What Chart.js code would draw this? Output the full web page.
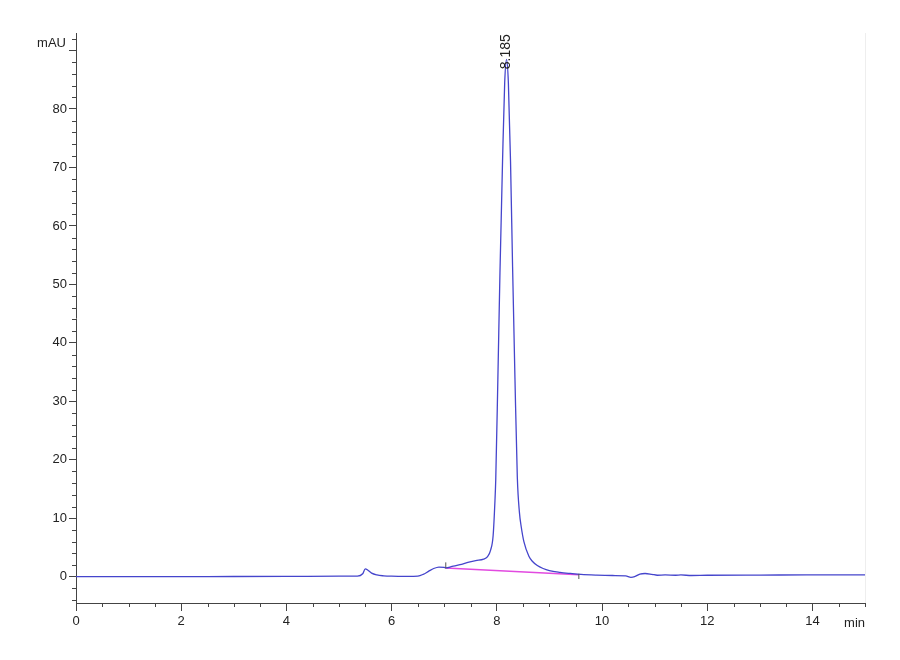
<!DOCTYPE html>
<html><head><meta charset="utf-8">
<script src="https://cdn.jsdelivr.net/npm/chart.js@4"></script>
<style>html,body{margin:0;padding:0;background:#fff}#wrap{width:900px;height:660px;position:relative}</style>
</head><body><div id="wrap"><canvas id="c"></canvas></div>
<script>
// Chromatogram signal (time in min, absorbance in mAU)
const timeMin = [0, 1, 2, 3, 4, 5, 5.35, 5.45, 5.5, 5.55, 5.62, 5.72, 5.85, 6.0, 6.3, 6.5, 6.6, 6.7, 6.8, 6.9, 7.0, 7.03, 7.15, 7.3, 7.45, 7.6, 7.75, 7.82, 7.884, 7.93, 7.965, 7.98, 8.02, 8.06, 8.109, 8.15, 8.185, 8.22, 8.261, 8.30, 8.345, 8.39, 8.43, 8.465, 8.515, 8.61, 8.68, 8.77, 8.88, 9.0, 9.2, 9.4, 9.6, 9.9, 10.2, 10.45, 10.55, 10.62, 10.72, 10.82, 10.95, 11.05, 11.2, 11.4, 11.5, 11.7, 12, 13, 14, 15];
const signalMAU = [0.0, 0.0, 0.02, 0.03, 0.05, 0.08, 0.1, 0.5, 1.35, 1.1, 0.6, 0.3, 0.15, 0.08, 0.05, 0.1, 0.4, 0.9, 1.4, 1.65, 1.6, 1.5, 1.75, 2.05, 2.45, 2.75, 3.0, 3.4, 4.6, 7.0, 13.0, 16.6, 33.7, 52, 71, 84.5, 88.5, 84.5, 71, 53, 34, 17, 11, 8.5, 6.0, 3.5, 2.6, 1.9, 1.4, 1.05, 0.75, 0.55, 0.38, 0.26, 0.2, 0.15, -0.1, 0.0, 0.45, 0.55, 0.4, 0.25, 0.3, 0.25, 0.3, 0.2, 0.25, 0.28, 0.3, 0.3];
// Integration baseline of the main peak
const baselineTime = [7.03, 9.56];
const baselineMAU = [1.5, 0.34];
// Integration start / end marks
const markTime = [7.03, 9.56];
const markLow = [1.4, -0.4];
const markHigh = [2.45, 0.5];
// Peak annotation
const peakTime = 8.185;
const peakLabelAt = 86.8;
const peakLabel = "8.185";
// Axes
const xMin = 0, xMax = 15, xStep = 0.5, xLabelEvery = 2;
const yMin = -4.5, yMax = 93, yStep = 2, yLabelEvery = 10;
const yUnit = "mAU", xUnit = "min";

const FONT = "'Liberation Sans', Arial, sans-serif";
const AXIS = '#444';

const signalPts = timeMin.map((t, i) => ({x: t, y: signalMAU[i]}));
const basePts = baselineTime.map((t, i) => ({x: t, y: baselineMAU[i]}));
const markSets = markTime.map((t, i) => ({
  data: [{x: t, y: markLow[i]}, {x: t, y: markHigh[i]}],
  borderColor: '#555', borderWidth: 1, pointRadius: 0, order: 0
}));

function isMult(v, m){ return Math.abs(v / m - Math.round(v / m)) < 1e-6; }

const decor = {
  id: 'decor',
  afterDraw(chart){
    const {ctx, chartArea: a, scales: {x, y}} = chart;
    ctx.save();
    // minor ticks
    ctx.strokeStyle = AXIS; ctx.lineWidth = 1;
    ctx.beginPath();
    x.ticks.forEach(t => {
      if (!isMult(t.value, xLabelEvery)) {
        const px = Math.round(x.getPixelForValue(t.value)) + 0.5;
        ctx.moveTo(px, a.bottom); ctx.lineTo(px, a.bottom + 4);
      }
    });
    y.ticks.forEach(t => {
      if (!isMult(t.value, yLabelEvery)) {
        const py = Math.round(y.getPixelForValue(t.value)) + 0.5;
        ctx.moveTo(a.left, py); ctx.lineTo(a.left - 4, py);
      }
    });
    ctx.stroke();
    // faint right frame
    ctx.strokeStyle = '#eeeeee';
    ctx.beginPath();
    ctx.moveTo(Math.round(a.right) + 0.5, a.top); ctx.lineTo(Math.round(a.right) + 0.5, a.bottom);
    ctx.stroke();
    // units
    ctx.fillStyle = '#222';
    ctx.font = '13px ' + FONT;
    ctx.textAlign = 'right'; ctx.textBaseline = 'middle';
    ctx.fillText(yUnit, a.left - 10, y.getPixelForValue(91.3));
    ctx.fillText(xUnit, a.right, a.bottom + 20);
    // peak label
    ctx.font = '14px ' + FONT;
    const px = x.getPixelForValue(peakTime), py = y.getPixelForValue(peakLabelAt);
    ctx.translate(px, py);
    ctx.rotate(-Math.PI / 2);
    ctx.textAlign = 'left'; ctx.textBaseline = 'middle';
    ctx.fillText(peakLabel, 0, 0);
    ctx.restore();
  }
};

new Chart(document.getElementById('c'), {
  type: 'line',
  data: {
    datasets: [
      {data: signalPts, borderColor: '#4545cc', borderWidth: 1.3, pointRadius: 0, cubicInterpolationMode: 'monotone', order: 1},
      {data: basePts, borderColor: '#e24ae0', borderWidth: 1.5, pointRadius: 0, order: 2},
      ...markSets
    ]
  },
  options: {
    responsive: true, maintainAspectRatio: false, animation: false,
    layout: {padding: {top: 33, right: 35, left: 0, bottom: 0}},
    plugins: {legend: {display: false}, tooltip: {enabled: false}},
    scales: {
      x: {
        type: 'linear', min: xMin, max: xMax,
        afterFit: s => { s.height = 57; },
        afterBuildTicks: s => { const t = []; for (let v = xMin; v <= xMax + 1e-9; v += xStep) t.push({value: +v.toFixed(3)}); s.ticks = t; },
        border: {display: true, color: AXIS, width: 1},
        grid: {display: true, drawOnChartArea: false, drawTicks: true, tickLength: 8,
               tickColor: c => (c.tick && isMult(c.tick.value, xLabelEvery)) ? AXIS : 'rgba(0,0,0,0)'},
        ticks: {autoSkip: false, maxRotation: 0, padding: 3, color: '#222', font: {family: FONT, size: 13},
                callback: v => isMult(v, xLabelEvery) ? String(Math.round(v)) : ''}
      },
      y: {
        type: 'linear', min: yMin, max: yMax,
        afterFit: s => { s.width = 76; },
        afterBuildTicks: s => { const t = []; for (let v = -4; v <= 92 + 1e-9; v += yStep) t.push({value: v}); s.ticks = t; },
        border: {display: true, color: AXIS, width: 1},
        grid: {display: true, drawOnChartArea: false, drawTicks: true, tickLength: 7,
               tickColor: c => (c.tick && isMult(c.tick.value, yLabelEvery)) ? AXIS : 'rgba(0,0,0,0)'},
        ticks: {autoSkip: false, padding: 2, color: '#222', font: {family: FONT, size: 13},
                callback: v => (isMult(v, yLabelEvery) && v >= 0 && v <= 80) ? String(v) : ''}
      }
    }
  },
  plugins: [decor]
});
</script></body></html>
